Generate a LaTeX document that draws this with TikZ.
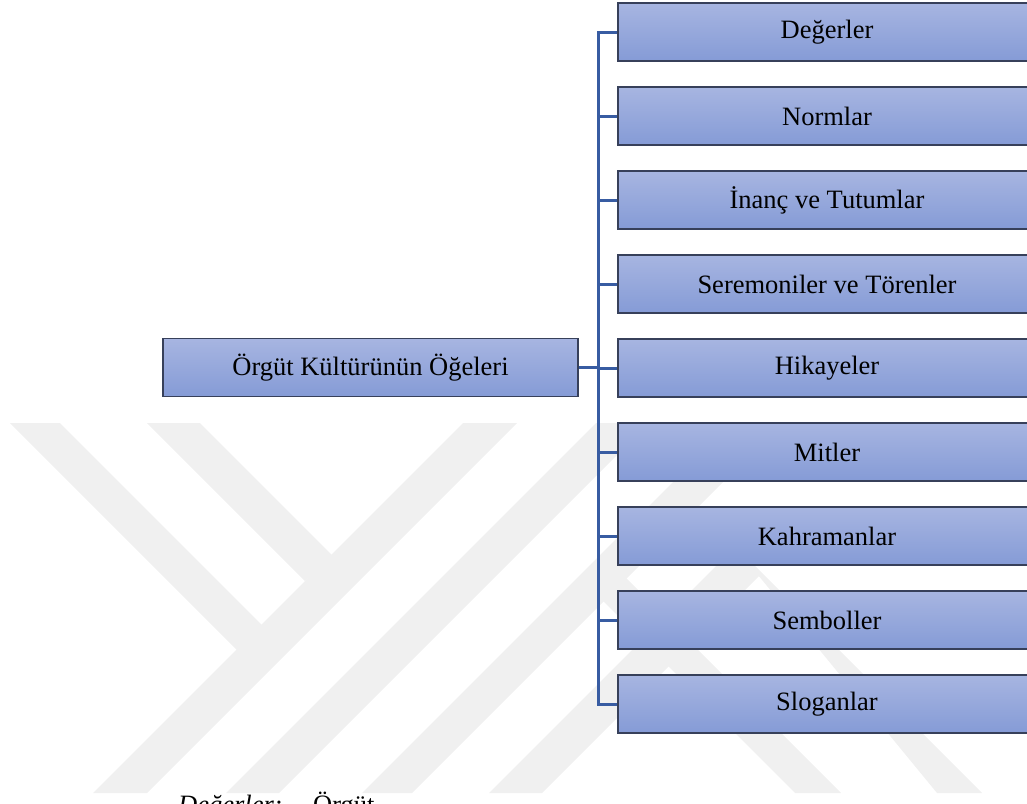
\documentclass[tikz,border=0pt]{standalone}
\usepackage{fontspec}
\setmainfont{Liberation Serif}
\definecolor{wmgray}{RGB}{240,240,240}
\definecolor{boxtop}{RGB}{167,181,225}
\definecolor{boxbot}{RGB}{133,155,214}
\definecolor{boxborder}{RGB}{55,64,90}
\definecolor{linecol}{RGB}{56,92,162}
\begin{document}
\begin{tikzpicture}[x=1pt,y=-1pt,
  wm/.style={fill=wmgray,draw=none},
  box/.style={draw=boxborder, line width=1.2pt, top color=boxtop, bottom color=boxbot,
    minimum height=58pt, inner sep=0pt, font=\fontsize{26.5}{30}\selectfont, text=black},
  child/.style={box, minimum width=418pt},
  conn/.style={draw=linecol, line width=3pt, line join=miter},
  captxt/.style={anchor=base west, inner sep=0pt, font=\fontsize{26.5}{30}\selectfont}]
\useasboundingbox (0,0) rectangle (1027,803);
\begin{scope}
\clip (0,0) rectangle (1027,803);
% watermark
\fill[wm] (93,793)--(463,423)--(517,423)--(147,793)--cycle;
\fill[wm] (10,423)--(60,423)--(265,628)--(237,650)--cycle;
\fill[wm] (147,423)--(200,423)--(334,557)--(305,581)--cycle;
\fill[wm] (226,793)--(596,423)--(649,423)--(279,793)--cycle;
\fill[wm] (362,793)--(732,423)--(782,423)--(412,793)--cycle;
\fill[wm] (489,793)--(735,547)--(762,573)--(542,793)--cycle;
\fill[wm] (735,547)--(762,573)--(982,793)--(937,793)--cycle;
\fill[wm] (602,600)--(626,578)--(841,793)--(795,793)--cycle;
% boxes
\node[box, minimum width=415pt] (root) at (370.5,367.5) {Örgüt Kültürünün Öğeleri};
\node[child] (c1) at (827,32) {Değerler};
\node[child] (c2) at (827,116) {Normlar};
\node[child] (c3) at (827,200) {İnanç ve Tutumlar};
\node[child] (c4) at (827,284) {Seremoniler ve Törenler};
\node[child] (c5) at (827,368) {Hikayeler};
\node[child] (c6) at (827,452) {Mitler};
\node[child] (c7) at (827,536) {Kahramanlar};
\node[child] (c8) at (827,620) {Semboller};
\node[child] (c9) at (827,704) {Sloganlar};
\coordinate (trunk) at (598,368);
% connectors
\draw[conn] (c1.west) -- (c1.west -| trunk) -- (c9.west -| trunk) -- (c9.west);
\draw[conn] (root.east) -- (root.east -| trunk);
\foreach \i in {2,...,8} {\draw[conn] (c\i.west -| trunk) -- (c\i.west);}
% caption line, cut off by the lower edge as in the reference
\node[captxt] (cap1) at (178,813) {\textit{Değerler:}};
\node[captxt] (cap2) at (313,813) {Örgüt};
\end{scope}
\end{tikzpicture}
\end{document}
